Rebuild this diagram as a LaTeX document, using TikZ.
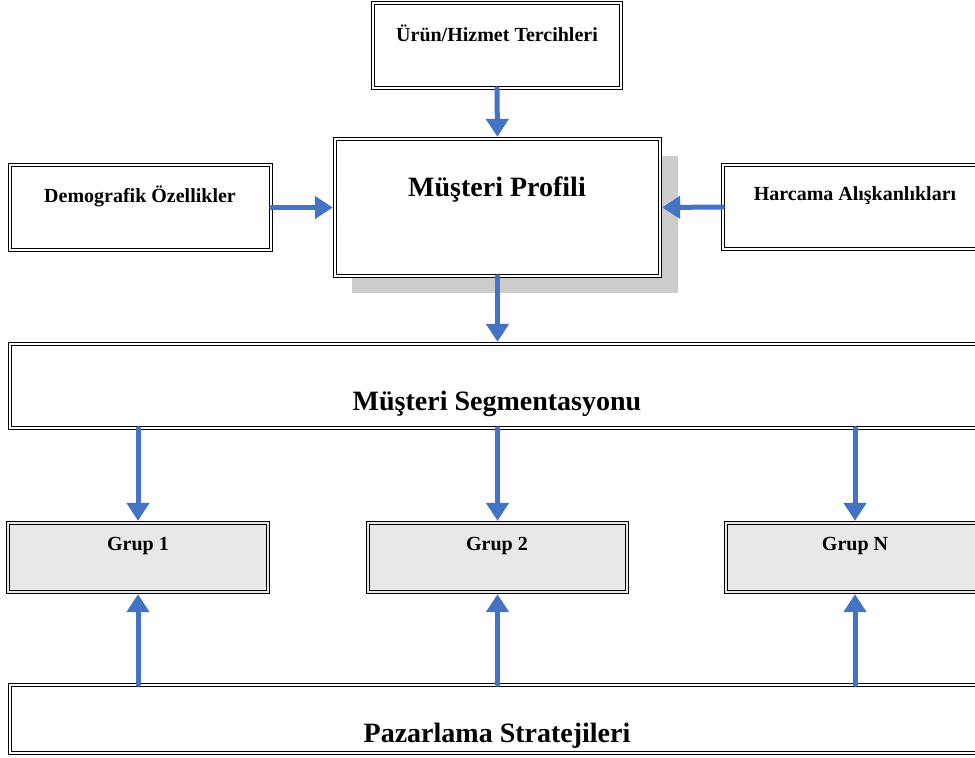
\documentclass[tikz,border=0pt]{standalone}
\usepackage{fontspec}
\setmainfont{Liberation Serif}
\usetikzlibrary{arrows.meta}
\definecolor{flowblue}{HTML}{4472C4}
\definecolor{grupgray}{HTML}{E8E8E8}
\definecolor{shadowgray}{HTML}{CCCCCC}

\begin{document}
\begin{tikzpicture}[x=1pt, y=-1pt]
            \tikzstyle{block} = [draw=black, line width=1.3pt, double=white, double distance=1.8pt, fill=white, inner sep=0pt]
            \tikzstyle{grup} = [block, double=grupgray, fill=grupgray]
            \tikzstyle{flow} = [draw=flowblue, line width=5pt, line cap=round, -{Triangle[width=22pt, length=18pt]}, shorten >=1.5pt]
            \tikzstyle{small} = [font=\bfseries\fontsize{20}{23}\selectfont]
            \tikzstyle{big} = [font=\bfseries\fontsize{28}{32}\selectfont]
            \useasboundingbox (0, 0) rectangle (975, 758);
            \clip (0, 0) rectangle (975, 758);
            \fill[white] (0, 0) rectangle (975, 758);
            % boxes
            \node[block, minimum width=248, minimum height=85] (urun) at (497, 45.5) {};
            \fill[shadowgray] (352, 156) rectangle (678, 293);
            \node[block, minimum width=325, minimum height=137] (profil) at (497.5, 207.5) {};
            \node[block, minimum width=261, minimum height=85] (demo) at (140.5, 207.5) {};
            \node[block, minimum width=267, minimum height=84] (harcama) at (856.5, 207) {};
            \node[block, minimum width=980, minimum height=84] (segment) at (500, 386) {};
            \node[grup, minimum width=260, minimum height=69] (grup1) at (138, 557.5) {};
            \node[grup, minimum width=259, minimum height=69] (grup2) at (497.5, 557.5) {};
            \node[grup, minimum width=264, minimum height=69] (grupN) at (858, 557.5) {};
            \node[block, minimum width=980, minimum height=68] (pazar) at (500, 719) {};
            % labels
            \node[small] (urunText) at (497, 33) {Ürün/Hizmet Tercihleri};
            \node[big] (profilText) at (497, 190) {Müşteri Profili};
            \node[small] (demoText) at (140, 196) {Demografik Özellikler};
            \node[small] (harcamaText) at (855, 196) {Harcama Alışkanlıkları};
            \node[big] (segmentText) at (497, 404) {Müşteri Segmentasyonu};
            \node[small] (grup1Text) at (138, 546) {Grup 1};
            \node[small] (grup2Text) at (497, 546) {Grup 2};
            \node[small] (grupNText) at (855, 546) {Grup N};
            \node[big] (pazarText) at (497, 736) {Pazarlama Stratejileri};
            % arrows
            \draw[flow] (urun.south) -- (profil.north);
            \draw[flow] (demo.east) -- (profil.west);
            \draw[flow] (harcama.west) -- (profil.east);
            \draw[flow] (profil.south) -- (segment.north -| profil.south);
            \draw[flow] (segment.south -| grup1.north) -- (grup1.north);
            \draw[flow] (segment.south -| grup2.north) -- (grup2.north);
            \draw[flow] (segment.south -| grupNText.north) -- (grupN.north -| grupNText.north);
            \draw[flow] (pazar.north -| grup1.south) -- (grup1.south);
            \draw[flow] (pazar.north -| grup2.south) -- (grup2.south);
            \draw[flow] (pazar.north -| grupNText.south) -- (grupN.south -| grupNText.south);
        \end{tikzpicture}
\end{document}
